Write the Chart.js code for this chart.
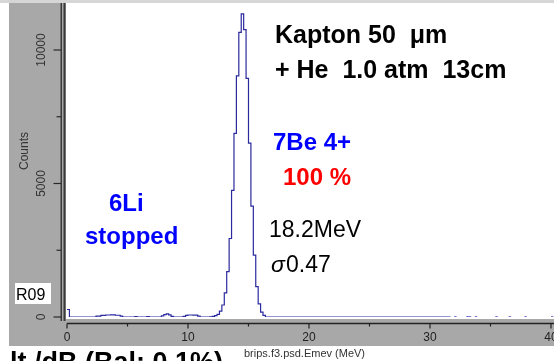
<!DOCTYPE html>
<html>
<head>
<meta charset="utf-8">
<script src="https://cdn.jsdelivr.net/npm/chart.js@4.4.1/dist/chart.umd.min.js"></script>
<style>
  body { margin: 0; background: #fff; }
  canvas { display: block; }
</style>
</head>
<body>
<canvas id="specChart" width="554" height="361"></canvas>
<script>
// histogram: bin start energy (MeV) -> counts, 0.2 MeV bins, only where value changes
var binStarts = [0, 0.2, 2.4, 2.8, 3.2, 3.6, 4.0, 4.4, 4.6, 5.6, 5.8, 6.6, 6.8,
  7.8, 8.0, 8.2, 8.4, 8.6, 8.8, 9.6, 9.8, 10.0, 10.4, 10.8, 11.0,
  11.8, 12.0, 12.2, 12.4, 12.6, 12.8, 13.0, 13.2, 13.4, 13.6, 13.8, 14.0, 14.2,
  14.4, 14.6, 14.8, 15.0, 15.2, 15.4, 15.6, 15.8, 16.0, 16.2, 16.4, 31.7];
var binCounts = [280, 0, 30, 60, 75, 80, 65, 35, 0, 15, 0, 12, 0,
  40, 90, 120, 80, 25, 0, 20, 60, 75, 70, 30, 0,
  10, 25, 50, 100, 220, 450, 900, 1700, 2940, 4740, 6880, 9030, 10660,
  11350, 10760, 8940, 6510, 4150, 2320, 1140, 490, 185, 60, 0, 0];

// isolated single counts above 32 MeV
var tailHits = [32.0, 33.0, 33.2, 33.7, 35.4, 36.5, 37.8, 40.0];
var tailBinWidth = 0.2;

var xTicks = [0, 10, 20, 30, 40];
var xMinorTicks = [5, 15, 25, 35];
var yTicks = [0, 5000, 10000];
var yMinorTicks = [2500, 7500];

var xTitle = "brips.f3.psd.Emev (MeV)";
var yTitle = "Counts";

var histData = binStarts.map(function (e, i) {
  return { x: e, y: binCounts[i] };
});

var tailData = [];
tailHits.forEach(function (e) {
  tailData.push({ x: e, y: 1 });
  tailData.push({ x: e + tailBinWidth, y: 1 });
  tailData.push({ x: e + tailBinWidth, y: null });
});

var framePlugin = {
  id: "frame",
  beforeDraw: function (chart) {
    var c = chart.ctx;
    c.save();
    c.fillStyle = "#ffffff";
    c.fillRect(0, 0, 554, 361);
    c.fillStyle = "#d6d6d6";
    c.fillRect(0, 0, 554, 3);
    c.fillStyle = "#a8a8a8";
    c.fillRect(9, 3, 545, 343);
    c.fillStyle = "#ffffff";
    c.fillRect(66, 3, 488, 316);
    c.fillRect(0, 346, 228, 15);
    c.restore();
  },
  afterDraw: function (chart) {
    var c = chart.ctx;
    var xs = chart.scales.x;
    var ys = chart.scales.y;
    c.save();

    // y axis double line
    c.fillStyle = "#3a3a3a";
    c.fillRect(60.5, 3, 1.5, 318);
    c.fillRect(63.5, 3, 2, 318);

    c.strokeStyle = "#2a2a2a";
    c.lineWidth = 1.2;
    yTicks.forEach(function (v) {
      var py = ys.getPixelForValue(v);
      c.beginPath();
      c.moveTo(53.5, py);
      c.lineTo(61, py);
      c.stroke();
    });
    yMinorTicks.forEach(function (v) {
      var py = ys.getPixelForValue(v);
      c.beginPath();
      c.moveTo(56.5, py);
      c.lineTo(61, py);
      c.stroke();
    });

    c.fillStyle = "#333";
    c.font = "12px 'Liberation Sans', Arial, sans-serif";
    c.textAlign = "center";
    c.textBaseline = "middle";
    yTicks.forEach(function (v) {
      var py = ys.getPixelForValue(v);
      c.save();
      c.translate(42, py);
      c.rotate(-Math.PI / 2);
      c.fillText(String(v), 0, 0);
      c.restore();
    });
    c.save();
    c.translate(25, 151);
    c.rotate(-Math.PI / 2);
    c.fillText(yTitle, 0, 0);
    c.restore();

    // x axis
    var x0 = xs.getPixelForValue(0);
    c.strokeStyle = "#222";
    c.lineWidth = 1.5;
    c.beginPath();
    c.moveTo(x0, 323.5);
    c.lineTo(554, 323.5);
    c.stroke();
    c.lineWidth = 1.2;
    xTicks.forEach(function (v) {
      var px = xs.getPixelForValue(v);
      c.beginPath();
      c.moveTo(px, 323.5);
      c.lineTo(px, 328.5);
      c.stroke();
    });
    xMinorTicks.forEach(function (v) {
      var px = xs.getPixelForValue(v);
      c.beginPath();
      c.moveTo(px, 323.5);
      c.lineTo(px, 326.5);
      c.stroke();
    });
    c.fillStyle = "#222";
    c.font = "12px 'Liberation Sans', Arial, sans-serif";
    xTicks.forEach(function (v) {
      c.fillText(String(v), xs.getPixelForValue(v), 338);
    });
    c.fillStyle = "#333";
    c.font = "11px 'Liberation Sans', Arial, sans-serif";
    c.textAlign = "left";
    c.fillText(xTitle, 244, 354);

    // R09 box
    c.fillStyle = "#ffffff";
    c.fillRect(15, 283, 36, 21);
    c.fillStyle = "#000";
    c.font = "16px 'Liberation Sans', Arial, sans-serif";
    c.textBaseline = "alphabetic";
    c.fillText("R09", 16, 300);

    // annotations
    c.font = "bold 25px 'Liberation Sans', Arial, sans-serif";
    c.fillStyle = "#000";
    c.fillText("Kapton 50  \u03bcm", 275, 43);
    c.fillText("+ He  1.0 atm  13cm", 275, 78);

    c.font = "bold 24px 'Liberation Sans', Arial, sans-serif";
    c.fillStyle = "#0000ff";
    c.fillText("7Be 4+", 273, 150);
    c.fillStyle = "#ff0000";
    c.fillText("100 %", 283, 185);
    c.fillStyle = "#0000ff";
    c.fillText("6Li", 109, 211);
    c.fillText("stopped", 85, 244);

    c.font = "23px 'Liberation Sans', Arial, sans-serif";
    c.fillStyle = "#000";
    c.fillText("18.2MeV", 269, 237);
    c.font = "italic 23px 'Liberation Sans', Arial, sans-serif";
    c.fillText("\u03c3", 271, 272);
    c.font = "23px 'Liberation Sans', Arial, sans-serif";
    c.fillText("0.47", 286, 272);

    // cut-off slide caption at the bottom
    c.font = "bold 27px 'Liberation Sans', Arial, sans-serif";
    c.fillText("lt./dB (Bal: 0.1%)", 10, 371);

    c.restore();
  }
};

var ctx = document.getElementById("specChart").getContext("2d");

var chart = new Chart(ctx, {
  type: "scatter",
  data: {
    datasets: [
      {
        label: "Emev",
        data: histData,
        showLine: true,
        stepped: true,
        borderColor: "#2a2a9e",
        borderWidth: 1.2,
        pointRadius: 0,
        fill: false,
      },
      {
        label: "tail",
        data: tailData,
        showLine: true,
        spanGaps: false,
        borderColor: "#4b4bcc",
        borderWidth: 1.5,
        pointRadius: 0,
        fill: false,
      },
    ],
  },
  options: {
    responsive: false,
    animation: false,
    events: [],
    layout: {
      padding: { left: 67, right: 0, top: 3, bottom: 44 },
    },
    scales: {
      x: {
        type: "linear",
        min: 0,
        max: 40.25,
        display: false,
      },
      y: {
        type: "linear",
        min: 0,
        max: 11760,
        display: false,
      },
    },
    plugins: {
      legend: { display: false },
      tooltip: { enabled: false },
    },
  },
  plugins: [framePlugin],
});
</script>
</body>
</html>
